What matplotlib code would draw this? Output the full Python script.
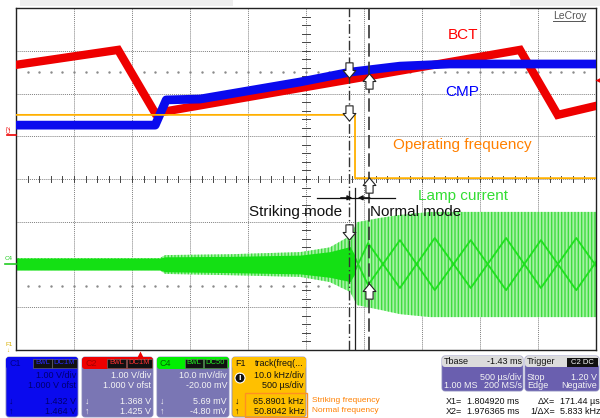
import matplotlib.pyplot as plt
from matplotlib.patches import FancyBboxPatch, Rectangle, Circle
from matplotlib.path import Path

plt.rcParams['font.family'] = ['Liberation Sans', 'DejaVu Sans']
plt.rcParams['hatch.linewidth'] = 1.0

# traces, in screen divisions (x 0..10, y -4..4)
bct_x = [0, 1.76, 2.40, 8.69, 9.34, 10]
bct_y = [2.67, 3.02, 1.54, 3.02, 1.50, 1.71]

cmp_x = [0, 2.40, 2.59, 3.17, 4.90, 5.76, 6.62, 7.48, 10]
cmp_y = [1.26, 1.26, 1.85, 1.87, 2.27, 2.50, 2.64, 2.69, 2.69]

freq_x = [0, 5.70, 5.76, 5.80, 5.845, 5.845, 10]
freq_y = [1.50, 1.50, 1.54, 1.50, 1.50, 0.02, 0.02]

lamp_x = [0, 2.48, 2.57, 3.69, 4.90, 5.41, 5.76, 5.88, 6.28, 6.62, 7.14, 10]
lamp_top = [-1.85, -1.85, -1.78, -1.76, -1.71, -1.60, -1.33, -1.01, -0.91, -0.84, -0.77, -0.77]
lamp_bot = [-2.13, -2.13, -2.22, -2.25, -2.29, -2.41, -2.64, -2.95, -3.06, -3.16, -3.23, -3.23]

core_x = [0, 2.48, 2.57, 3.69, 4.90, 5.41, 5.76, 5.85]
core_top = [-1.85, -1.85, -1.82, -1.81, -1.78, -1.70, -1.58, -1.80]
core_bot = [-2.13, -2.13, -2.17, -2.19, -2.22, -2.30, -2.40, -2.20]

zig_x = [5.85, 6.07, 6.62, 7.22, 7.84, 8.45, 9.05, 9.66, 10]
zig1_y = [-1.85, -2.48, -1.43, -2.60, -1.43, -2.60, -1.43, -2.60, -1.94]
zig2_y = [-2.13, -1.50, -2.55, -1.38, -2.55, -1.38, -2.55, -1.38, -2.03]

# cursors
x1_cur = 5.74
x2_cur = 6.09
x_split = 5.845
down_arrows = [2.55, 1.55, -1.24]
up_arrows = [2.29, -0.14, -2.62]

# bottom readout panels
c1_rows = ['1.00 V/div', '1.000 V ofst', '1.432 V', '1.464 V']
c2_rows = ['1.00 V/div', '1.000 V ofst', '1.368 V', '1.425 V']
c4_rows = ['10.0 mV/div', '-20.00 mV', '5.69 mV', '-4.80 mV']
f1_rows = ['10.0 kHz/div', '500 µs/div', '65.8901 kHz', '50.8042 kHz']
f1_notes = ['Striking frequency', 'Normal frequency']

fig = plt.figure(figsize=(6, 4.18), dpi=100)
ax = fig.add_axes([16 / 600, 1 - 350 / 418, 580 / 600, 342 / 418])
ax.set_xlim(0, 10)
ax.set_ylim(-4, 4)
ax.set_xticks([])
ax.set_yticks([])
for s in ax.spines.values():
    s.set_linewidth(1.0)
    s.set_color('#222222')

# graticule
for gx in range(1, 10):
    ax.axvline(gx, color='#808080', lw=0.7, ls=(0, (1, 1)), zorder=1)
for gy in range(-3, 4):
    ax.axhline(gy, color='#808080', lw=0.7, ls=(0, (1, 1)), zorder=1)
ticks = [i * 0.2 for i in range(1, 50)]
for t in ticks:
    ax.plot([t, t], [-0.06, 0.06], color='#444444', lw=0.7, zorder=1)
for t in [i * 0.2 - 4 for i in range(1, 40)]:
    ax.plot([4.93, 5.07], [t, t], color='#444444', lw=0.7, zorder=1)
ax.plot(ticks, [2.5] * len(ticks), ls='none', marker='s', ms=0.7, color='#8a8a8a', zorder=1)
ax.plot(ticks, [-2.5] * len(ticks), ls='none', marker='s', ms=0.7, color='#8a8a8a', zorder=1)

# lamp current
ax.fill_between(lamp_x, lamp_bot, lamp_top, facecolor='#a6f2a6', edgecolor='#3fdc3f',
                hatch='|||||', lw=0, zorder=2)
ax.fill_between(core_x, core_bot, core_top, color='#14e014', lw=0, zorder=2)
ax.plot(zig_x, zig1_y, color='#1ee01e', lw=1.3, zorder=2)
ax.plot(zig_x, zig2_y, color='#1ee01e', lw=1.3, zorder=2)

# BCT, CMP, operating frequency
ax.plot(bct_x, bct_y, color='#ee0000', lw=6.0, solid_joinstyle='miter', zorder=3)
ax.plot(cmp_x, cmp_y, color='#0a0aee', lw=6.3, solid_joinstyle='round', zorder=4)
ax.plot(freq_x, freq_y, color='#ffb000', lw=1.3, zorder=5)

# cursors
ax.axvline(x1_cur, color='#333333', lw=1.0, ls=(0, (7, 2, 1, 2)), zorder=6)
ax.axvline(x2_cur, color='#333333', lw=1.2, ls=(0, (8, 3)), zorder=6)
ax.plot([x_split, x_split], [-0.22, -4], color='#222222', lw=0.9, zorder=6)
ax.plot([5.19, 6.53], [-0.44, -0.44], color='#111111', lw=0.9, zorder=6)
ax.annotate('', xy=(x_split, -0.44), xytext=(5.55, -0.44),
            arrowprops=dict(arrowstyle='-|>', color='#111111', lw=0.9, mutation_scale=7), zorder=6)
ax.annotate('', xy=(x_split, -0.44), xytext=(6.15, -0.44),
            arrowprops=dict(arrowstyle='-|>', color='#111111', lw=0.9, mutation_scale=7), zorder=6)

arrow_dn = Path([(-0.28, 0.6), (0.28, 0.6), (0.28, 0.0), (0.5, 0.0), (0.0, -0.6),
                 (-0.5, 0.0), (-0.28, 0.0), (-0.28, 0.6)], closed=True)
arrow_up = Path([(x, -y) for x, y in arrow_dn.vertices], closed=True)
for yy in down_arrows:
    ax.plot([x1_cur], [yy], marker=arrow_dn, ms=11, mfc='white', mec='#222222', mew=0.8, zorder=7)
for yy in up_arrows:
    ax.plot([x2_cur], [yy], marker=arrow_up, ms=11, mfc='white', mec='#222222', mew=0.8, zorder=7)

# trace labels
ax.text(7.71, 3.37, 'BCT', color='#ff0000', fontsize=11, ha='center', va='center', zorder=8)
ax.text(7.69, 2.03, 'CMP', color='#0000ff', fontsize=11, ha='center', va='center', zorder=8)
ax.text(7.69, 0.80, 'Operating frequency', color='#ff8000', fontsize=11, ha='center', va='center', zorder=8)
ax.text(7.71, -0.40, 'Lamp current', color='#33dd33', fontsize=11, ha='center', va='center', zorder=8)
ax.text(5.62, -0.77, 'Striking mode', color='#111111', fontsize=11, ha='right', va='center', zorder=8)
ax.text(6.10, -0.77, 'Normal mode', color='#111111', fontsize=11, ha='left', va='center', zorder=8)

# overlay in pixel coordinates for the scope chrome
ov = fig.add_axes([0, 0, 1, 1])
ov.set_xlim(0, 600)
ov.set_ylim(418, 0)
ov.axis('off')
ov.set_zorder(5)

ov.add_patch(Rectangle((20, 0), 213, 6, fc='#eeeeee', ec='none'))
ov.add_patch(Rectangle((510, 0), 90, 6, fc='#eeeeee', ec='none'))
ov.text(553, 16, 'LeCroy', fontsize=7.5, color='#555555', va='center', ha='left')
ov.plot([553, 585], [21, 21], color='#555555', lw=0.7)

ov.text(7, 129, 'C2', fontsize=4.5, color='#ee0000', va='center', ha='left', rotation=90)
ov.plot([7, 16], [135, 135], color='#ee0000', lw=1.2)
ov.text(5, 258, 'C4', fontsize=4.5, color='#22cc22', va='center', ha='left')
ov.plot([5, 16], [264, 264], color='#22cc22', lw=1.2)
ov.text(6, 344, 'F1', fontsize=4.5, color='#d8b000', va='center', ha='left')
ov.text(6, 350, '↓', fontsize=4.5, color='#d8b000', va='center', ha='left')
ov.plot([140], [354], marker='^', ms=5, color='#ee0000', mec='none')
ov.plot([598], [80], marker='<', ms=5, color='#ee0000', mec='none')


def panel(x0, x1, title, badges, hdr, body, title_c, badge_c, txt_c, rows):
    ov.add_patch(FancyBboxPatch((x0, 357), x1 - x0, 60, boxstyle='round,pad=0,rounding_size=3',
                                fc=body, ec='#8888bb', lw=0.6))
    ov.add_patch(FancyBboxPatch((x0, 357), x1 - x0, 12, boxstyle='round,pad=0,rounding_size=3',
                                fc=hdr, ec='none'))
    ov.text(x0 + 3, 363, title, fontsize=6.5, color=title_c, va='center', ha='left')
    for bx0, bx1, bt in badges:
        ov.add_patch(Rectangle((bx0, 358.5), bx1 - bx0, 9, fc='#111111', ec='#777777', lw=0.4))
        ov.text((bx0 + bx1) / 2, 363, bt, fontsize=5.5, color=badge_c, va='center', ha='center')
    for yy, r in zip([376, 385, 401, 411], rows):
        ov.text(x1 - 2, yy, r, fontsize=6.5, color=txt_c, va='center', ha='right')
    ov.text(x0 + 3, 401, '↓', fontsize=6.5, color=txt_c, va='center', ha='left')
    ov.text(x0 + 3, 411, '↑', fontsize=6.5, color=txt_c, va='center', ha='left')


panel(6, 78, 'C1', [(33, 52, 'BwL'), (52, 77, 'DC1M')], '#0a0aee', '#0a0aee',
      '#000088', '#2a2aff', '#000070', c1_rows)
panel(82, 153, 'C2', [(107, 126, 'BwL'), (127, 152, 'DC1M')], '#ee0000', '#7a76b4',
      '#a00000', '#ff3030', '#f4f4f4', c2_rows)
panel(157, 229, 'C4', [(185, 203, 'BwL'), (204, 227, 'DC50')], '#00ee00', '#7a76b4',
      '#006600', '#22ee22', '#f4f4f4', c4_rows)
panel(232, 306, 'F1', [], '#ffc000', '#ffc000', '#111111', '#111111', '#111111', f1_rows)
ov.text(304, 363, 'track(freq(...', fontsize=6.5, color='#111111', va='center', ha='right')
ov.add_patch(Circle((240, 378), 5, fc='#111111', ec='white', lw=0.8))
ov.text(240, 378, 'i', fontsize=6.5, color='white', va='center', ha='center', weight='bold')
ov.add_patch(Rectangle((245, 393), 62, 24, fc='none', ec='#ff9020', lw=1.0))
ov.text(312, 401, f1_notes[0], fontsize=6, color='#ff8000', va='center', ha='left')
ov.text(312, 411, f1_notes[1], fontsize=6, color='#ff8000', va='center', ha='left')

# timebase and trigger
ov.add_patch(FancyBboxPatch((442, 356), 81, 35, boxstyle='round,pad=0,rounding_size=3',
                            fc='#6a5faf', ec='#8888bb', lw=0.6))
ov.add_patch(FancyBboxPatch((442, 356), 81, 11, boxstyle='round,pad=0,rounding_size=3',
                            fc='#dcdcdc', ec='none'))
ov.text(444, 362, 'Tbase', fontsize=6.5, color='#111111', va='center', ha='left')
ov.text(522, 362, '-1.43 ms', fontsize=6.5, color='#111111', va='center', ha='right')
ov.text(522, 377, '500 µs/div', fontsize=6.5, color='#f4f4f4', va='center', ha='right')
ov.text(444, 386, '1.00 MS', fontsize=6.5, color='#f4f4f4', va='center', ha='left')
ov.text(522, 386, '200 MS/s', fontsize=6.5, color='#f4f4f4', va='center', ha='right')

ov.add_patch(FancyBboxPatch((525, 356), 74, 35, boxstyle='round,pad=0,rounding_size=3',
                            fc='#6a5faf', ec='#8888bb', lw=0.6))
ov.add_patch(FancyBboxPatch((525, 356), 74, 11, boxstyle='round,pad=0,rounding_size=3',
                            fc='#dcdcdc', ec='none'))
ov.text(527, 362, 'Trigger', fontsize=6.5, color='#111111', va='center', ha='left')
ov.add_patch(Rectangle((567, 357.5), 31, 9, fc='#111111', ec='none'))
ov.text(582, 362, 'C2 DC', fontsize=5.5, color='white', va='center', ha='center')
ov.text(527, 377, 'Stop', fontsize=6.5, color='#f4f4f4', va='center', ha='left')
ov.text(597, 377, '1.20 V', fontsize=6.5, color='#f4f4f4', va='center', ha='right')
ov.text(527, 386, 'Edge', fontsize=6.5, color='#f4f4f4', va='center', ha='left')
ov.text(597, 386, 'Negative', fontsize=6.5, color='#f4f4f4', va='center', ha='right')

ov.text(446, 401, 'X1=', fontsize=6.5, color='#111111', va='center', ha='left')
ov.text(467, 401, '1.804920 ms', fontsize=6.5, color='#111111', va='center', ha='left')
ov.text(555, 401, 'ΔX=', fontsize=6.5, color='#111111', va='center', ha='right')
ov.text(560, 401, '171.44 µs', fontsize=6.5, color='#111111', va='center', ha='left')
ov.text(446, 411, 'X2=', fontsize=6.5, color='#111111', va='center', ha='left')
ov.text(467, 411, '1.976365 ms', fontsize=6.5, color='#111111', va='center', ha='left')
ov.text(555, 411, '1/ΔX=', fontsize=6.5, color='#111111', va='center', ha='right')
ov.text(560, 411, '5.833 kHz', fontsize=6.5, color='#111111', va='center', ha='left')

fig.savefig('out.png', dpi=100)
